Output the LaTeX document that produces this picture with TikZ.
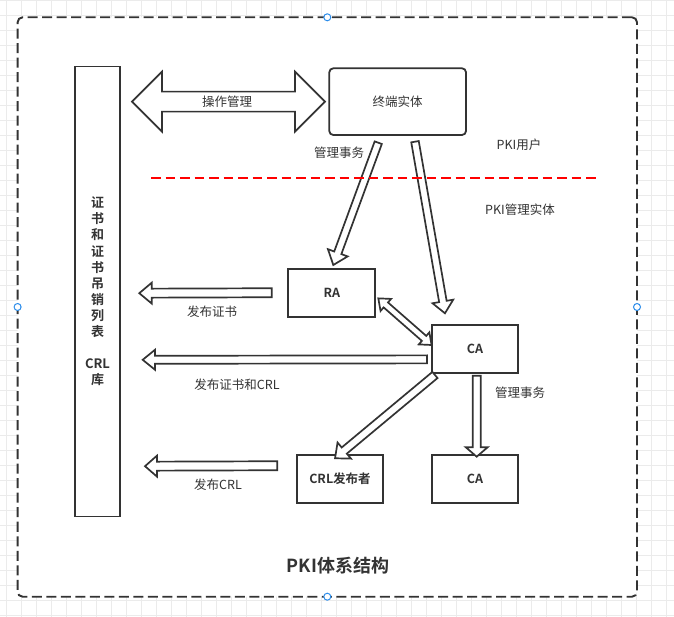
\documentclass[tikz,border=0pt]{standalone}
\usepackage{fontspec}
\setmainfont{Noto Sans CJK SC}[BoldFont={Noto Sans CJK SC Bold}]
\usetikzlibrary{calc}
\definecolor{ink}{HTML}{333333}
\definecolor{gridc}{HTML}{EBEBEB}
\definecolor{handleblue}{HTML}{2A8CEB}
\tikzset{
  box/.style={draw=ink, line width=1.8pt, fill=white, inner sep=0pt, outer sep=0pt},
  harrow/.style={draw=ink, line width=1.7pt, fill=white, line join=miter},
  lbl/.style={text=ink, inner sep=0pt, font=\fontsize{12.5}{14}\selectfont},
  boxlbl/.style={text=ink, font=\fontsize{12.5}{15}\selectfont\bfseries},
  handlept/.style={circle, draw=handleblue, fill=white, line width=1pt, minimum size=7pt, inner sep=0pt},
}
% single hollow arrow: [opts]{from}{to}{shaft half width}{head half width}{head length}
\newcommand\hollowarrow[6][]{%
  \draw[harrow,#1] let \p1=(#2), \p2=(#3),
    \n1={atan2(\y2-\y1,\x2-\x1)}, \n2={veclen(\x2-\x1,\y2-\y1)} in
    [shift={(\p1)}, rotate=\n1]
    (0pt,{-#4pt}) -- ({(\n2-#6)*1pt},{-#4pt}) -- ({(\n2-#6)*1pt},{-#5pt})
    -- ({\n2*1pt},0pt) -- ({(\n2-#6)*1pt},{#5pt}) -- ({(\n2-#6)*1pt},{#4pt})
    -- (0pt,{#4pt}) -- cycle;}
% double hollow arrow
\newcommand\hollowdarrow[6][]{%
  \draw[harrow,#1] let \p1=(#2), \p2=(#3),
    \n1={atan2(\y2-\y1,\x2-\x1)}, \n2={veclen(\x2-\x1,\y2-\y1)} in
    [shift={(\p1)}, rotate=\n1]
    (0pt,0pt) -- ({#6pt},{-#5pt}) -- ({#6pt},{-#4pt})
    -- ({(\n2-#6)*1pt},{-#4pt}) -- ({(\n2-#6)*1pt},{-#5pt})
    -- ({\n2*1pt},0pt) -- ({(\n2-#6)*1pt},{#5pt}) -- ({(\n2-#6)*1pt},{#4pt})
    -- ({#6pt},{#4pt}) -- ({#6pt},{#5pt}) -- cycle;}
\begin{document}
\begin{tikzpicture}[x=1pt,y=-1pt]
\useasboundingbox (0,0) rectangle (674,617);
\fill[white] (0,0) rectangle (674,617);
% background grid
\foreach \i in {0,...,44} \draw[gridc, line width=0.8pt] ({6.7+15*\i},0) -- ({6.7+15*\i},617);
\foreach \j in {0,...,41} \draw[gridc, line width=0.8pt] (0,{15*\j}) -- (674,{15*\j});
% outer dashed frame
\node[draw=ink, fill=white, line width=1.9pt, dash pattern=on 10pt off 4.5pt, rounded corners=5pt,
      minimum width=619.4pt, minimum height=579.4pt, inner sep=0pt, outer sep=0pt] (frame) at (327.3,307) {};
% boxes
\node[box, minimum width=45pt, minimum height=450pt, align=center, text=ink,
      font=\fontsize{13}{16.1}\selectfont\bfseries] (store) at (97.5,291.5)
      {证\\书\\和\\证\\书\\吊\\销\\列\\表\\ \mbox{}\\CRL\\库};
\node[box, rounded corners=4pt, minimum width=136.7pt, minimum height=66.7pt,
      text=ink, font=\fontsize{12.5}{14}\selectfont] (ee) at (397.65,101.65) {终端实体};
\node[box, minimum width=87pt, minimum height=47.7pt, boxlbl] (ra) at (331.8,292.85) {RA};
\node[box, minimum width=86.7pt, minimum height=47.7pt, boxlbl] (ca) at (475,348.85) {CA};
\node[box, minimum width=86.7pt, minimum height=47.7pt, boxlbl] (ca2) at (475,478.85) {CA};
\node[box, minimum width=86.7pt, minimum height=47.7pt, boxlbl] (crl) at (340,478.85) {CRL发布者};
% arrows
\hollowdarrow{[shift={(-197.3,0)}]ee.west}{[shift={(-4.3,0)}]ee.west}{10}{30}{30}
\node[lbl] (opm) at (227,102) {操作管理};
\hollowarrow{[shift={(-19.4,7.7)}]ee.south}{[shift={(1.5,-4)}]ra.north}{3.8}{10.5}{13}
\hollowarrow{[shift={(17.35,6.7)}]ee.south}{[shift={(13.3,-11.7)}]ca.north west}{3.8}{10.5}{12}
\hollowdarrow{[shift={(3,5.5)}]ra.east}{[shift={(0,-3.8)}]ca.west}{3.3}{8}{10}
\hollowarrow{[shift={(3.3,2.3)}]ca.south west}{[shift={(-5,3.3)}]crl.north}{4}{10.5}{12}
\hollowarrow{[shift={(1.7,3)}]ca.south}{[shift={(1.7,1.7)}]ca2.north}{4}{11}{9.5}
\hollowarrow{[shift={(-16.6,-0.1)}]ra.west}{[shift={(19.3,1.7)}]store.east}{4.5}{10.5}{12.5}
\hollowarrow{[shift={(-4.7,10.5)}]ca.west}{[shift={(22.7,68.3)}]store.east}{4}{10}{12.3}
\hollowarrow{[shift={(-19.4,-13.1)}]crl.west}{[shift={(25,174.7)}]store.east}{4.5}{10.5}{12}
% red dashed separator
\coordinate (sepL) at (151,178.5);
\coordinate (sepR) at (597,178.5);
\draw[red, line width=2pt, dash pattern=on 9.5pt off 5pt] (sepL) -- (sepR);
% labels
\node[lbl] (m1) at (339,153) {管理事务};
\node[lbl] (pu) at (519,145) {PKI用户};
\node[lbl] (pm) at (520,210) {PKI管理实体};
\node[lbl] (l1) at (212,312) {发布证书};
\node[lbl] (l2) at (237,385) {发布证书和CRL};
\node[lbl] (l3) at (218,485) {发布CRL};
\node[lbl] (m2) at (520,393) {管理事务};
\node[text=ink, inner sep=0pt, font=\fontsize{18}{20}\selectfont\bfseries] (title) at (338,566) {PKI体系结构};
% selection handles
\node[handlept] (h1) at (frame.north) {};
\node[handlept] (h2) at (frame.south) {};
\node[handlept] (h3) at (frame.west) {};
\node[handlept] (h4) at (frame.east) {};
\end{tikzpicture}
\end{document}
